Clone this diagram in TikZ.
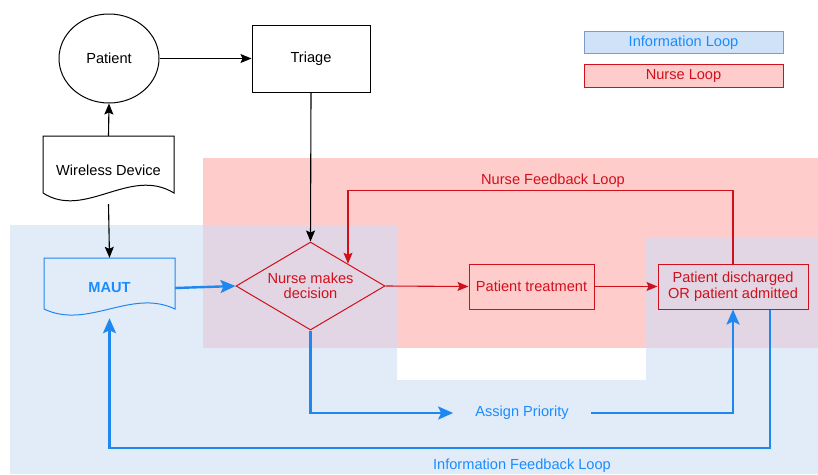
\documentclass[tikz,border=0pt]{standalone}
\usepackage{fontspec}
\setmainfont{Liberation Sans}
\usetikzlibrary{arrows.meta,shapes.geometric}

\definecolor{infoblue}{HTML}{1A8CFF}
\definecolor{infoline}{HTML}{1E88F0}
\definecolor{nursered}{HTML}{D0101B}
\definecolor{zoneblue}{HTML}{E1ECF8}
\definecolor{zonered}{HTML}{FFCCCC}
\definecolor{zonemix}{HTML}{E2D6E4}
\definecolor{legblue}{HTML}{CFE2F7}
\definecolor{legblueline}{HTML}{7B9CC4}

\tikzset{
  txt/.style={font=\fontsize{14.6}{15.5}\selectfont, align=center},
  plainbox/.style={txt, draw=black, line width=1pt, inner sep=0pt, text=black},
  redbox/.style={txt, draw=nursered, line width=1pt, inner sep=0pt, text=nursered},
  blackarrow/.style={draw=black, line width=1.1pt, -{Stealth[length=11pt,width=9pt,inset=2pt]}},
  redarrow/.style={draw=nursered, line width=1.1pt, -{Stealth[length=11pt,width=9pt,inset=2pt]}},
  bluearrow/.style={draw=infoline, line width=2.4pt, -{Stealth[length=15pt,width=13pt,inset=3pt]}},
  docline/.style={line width=1pt},
}

\begin{document}
\begin{tikzpicture}[x=1pt,y=-1pt]
\useasboundingbox (0,0) rectangle (818,474);

% shaded loop zones
\fill[zoneblue] (10,225) -- (397,225) -- (397,380) -- (646,380) -- (646,237)
  -- (818,237) -- (818,474) -- (10,474) -- cycle;
\fill[zonered] (203,158) rectangle (818,348);
\fill[zonemix] (203,225) rectangle (397,348);
\fill[zonemix] (646,237) rectangle (818,348);

% legend
\node[txt, draw=legblueline, fill=legblue, line width=1pt, text=infoblue,
      minimum width=199pt, minimum height=22pt, inner sep=0pt] (leginfo) at (683.5,42.5) {Information Loop};
\node[txt, draw=nursered, fill=zonered, line width=1pt, text=nursered,
      minimum width=199pt, minimum height=23pt, inner sep=0pt] (legnurse) at (683.5,76) {Nurse Loop};

% patient and triage
\node[plainbox, ellipse, minimum width=100pt, minimum height=89pt] (pat) at (109,58.5) {Patient};
\node[plainbox, rectangle, minimum width=118pt, minimum height=67pt] (tri) at (311,58.5) {Triage};

% wireless device (document shape)
\node[txt, inner sep=0pt, minimum width=131pt, minimum height=68pt] (wd) at (108.5,170) {Wireless Device};
\draw[docline] (43,193) -- (43,136) -- (174,136) -- (174,193)
  .. controls (130,166) and (85,220) .. (43,193);

% MAUT (document shape)
\node[txt, inner sep=0pt, minimum width=131pt, minimum height=60pt, text=infoblue,
      font=\fontsize{14.6}{15.5}\selectfont\bfseries] (maut) at (109.5,288) {MAUT};
\draw[docline, draw=infoline] (44,309) -- (44,258) -- (175,258) -- (175,309)
  .. controls (131,288) and (88,330) .. (44,309);

% nurse decision and outcomes
\node[redbox, diamond, aspect=1.69, minimum width=149pt, minimum height=88pt] (dec) at (310.5,286)
  {Nurse makes\\decision};
\node[redbox, rectangle, minimum width=125pt, minimum height=45pt] (treat) at (531.5,286.5) {Patient treatment};
\node[redbox, rectangle, minimum width=150pt, minimum height=45pt] (dis) at (733,286.5)
  {Patient discharged\\OR patient admitted};

% loop labels
\node[txt, text=nursered] (nfl) at (553,181) {Nurse Feedback Loop};
\node[txt, text=infoblue, inner xsep=22pt, inner ysep=0pt] (ap) at (522,413) {Assign Priority};
\node[txt, text=infoblue] (ifl) at (522,466) {Information Feedback Loop};

% black connectors
\draw[blackarrow] (pat.east) -- (tri.west);
\draw[blackarrow] (wd.north) -- (pat.south);
\draw[blackarrow] (wd.south) -- (maut.north);
\draw[blackarrow] (tri.south) -- (dec.north);

% nurse loop connectors
\draw[redarrow] (dec.east) -- (treat.west);
\draw[redarrow] (treat.east) -- (dis.west);
\draw[redarrow] (dis.north) -- ++(0,-73) -| (dec.north east);

% information loop connectors
\draw[bluearrow] (maut.east) -- (dec.west);
\draw[bluearrow] (dec.south) |- (ap.west);
\draw[bluearrow] (ap.east) -| (dis.south);
\coordinate (ifb) at (770,448);
\draw[bluearrow] (ifb |- dis.south) -- (ifb) -| (maut.south);
\end{tikzpicture}
\end{document}
